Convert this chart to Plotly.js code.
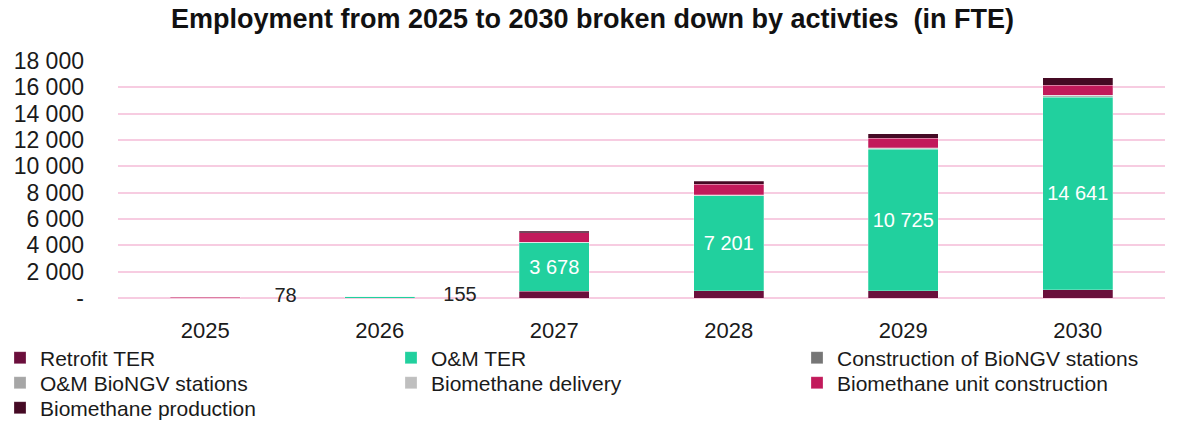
<!DOCTYPE html>
<html>
<head>
<meta charset="utf-8">
<script src="https://cdn.plot.ly/plotly-3.0.1.min.js"></script>
<style>html,body{margin:0;padding:0;background:#fff;}#chart{width:1185px;height:423px;}</style>
</head>
<body>
<div id="chart"></div>
<script>
const years = ['2025', '2026', '2027', '2028', '2029', '2030'];
const retrofitTER = [0, 0, 500, 560, 570, 620];
const omTER = [0, 140, 3678, 7201, 10725, 14641];
const constructionBioNGV = [0, 0, 20, 30, 40, 50];
const omBioNGV = [0, 0, 10, 20, 30, 40];
const biomethaneDelivery = [0, 0, 10, 20, 30, 40];
const biomethaneUnitConstruction = [60, 10, 720, 800, 720, 760];
const biomethaneProduction = [18, 5, 150, 230, 350, 580];
const yTickValues = [0, 2000, 4000, 6000, 8000, 10000, 12000, 14000, 16000, 18000];

const fmt = v => Math.round(v).toString().replace(/\B(?=(\d{3})+(?!\d))/g, ' ');
const xs = years.map((_, i) => i);
const FONT = 'Liberation Sans, Arial, sans-serif';
const W = 1185, H = 423;

// legend cell (column, row) for each series, laid out in 3 columns like the reference
const series = [
  {name: 'Retrofit TER', y: retrofitTER, color: '#6B0F3C', cell: [0, 0]},
  {name: 'O&M TER', y: omTER, color: '#21D09E', cell: [1, 0]},
  {name: 'Construction of BioNGV stations', y: constructionBioNGV, color: '#767676', cell: [2, 0]},
  {name: 'O&M BioNGV stations', y: omBioNGV, color: '#A6A6A6', cell: [0, 1]},
  {name: 'Biomethane delivery', y: biomethaneDelivery, color: '#BFBFBF', cell: [1, 1]},
  {name: 'Biomethane unit construction', y: biomethaneUnitConstruction, color: '#C21A5B', cell: [2, 1]},
  {name: 'Biomethane production', y: biomethaneProduction, color: '#450A24', cell: [0, 2]}
];

const colX = [-13, 391, 797];
const rowY = [358, 383, 408];

const layout = {
  width: W, height: H,
  margin: {l: 118, r: 20, t: 61, b: 125},
  paper_bgcolor: '#ffffff', plot_bgcolor: '#ffffff',
  font: {family: FONT, color: '#1a1a1a', size: 20},
  title: {
    text: '<b>Employment from 2025 to 2030 broken down by activties  (in FTE)</b>',
    font: {size: 27, color: '#111111', family: FONT},
    x: 0.5, xref: 'container', y: 0.957, yref: 'container', yanchor: 'middle'
  },
  barmode: 'stack',
  xaxis: {
    range: [-0.5, 5.5], tickvals: xs, ticktext: years, showgrid: false, zeroline: false,
    showline: false, ticks: '', tickfont: {size: 22, color: '#1a1a1a'}, ticklabelstandoff: 17,
    fixedrange: true
  },
  yaxis: {
    range: [0, 18000], tickvals: yTickValues, ticktext: yTickValues.map(v => v === 0 ? '-' : fmt(v)),
    showgrid: true, gridcolor: '#F7CCE1', gridwidth: 2,
    zeroline: true, zerolinecolor: '#F7CCE1', zerolinewidth: 2,
    showline: false, ticks: '', tickfont: {size: 23, color: '#1a1a1a'}, ticklabelstandoff: 33,
    fixedrange: true
  },
  showlegend: true
};

const traces = series.map((s, k) => {
  const legId = k === 0 ? 'legend' : 'legend' + (k + 1);
  layout[legId] = {
    orientation: 'h', xref: 'container', yref: 'container',
    x: colX[s.cell[0]] / W, y: 1 - rowY[s.cell[1]] / H,
    xanchor: 'left', yanchor: 'middle', itemwidth: 30,
    font: {size: 21, color: '#1a1a1a', family: FONT}, itemclick: false,
    bgcolor: 'rgba(0,0,0,0)'
  };
  const t = {
    type: 'bar', name: s.name, x: xs, y: s.y, width: 0.4, legend: legId,
    marker: {color: s.color, line: {color: 'rgba(255,255,255,0.5)', width: 0.5}},
    hoverinfo: 'name+y'
  };
  if (s.name === 'O&M TER') {
    t.text = s.y.map(v => v >= 1000 ? fmt(v) : '');
    t.textposition = 'inside';
    t.insidetextanchor = 'middle';
    t.textangle = 0;
    t.insidetextfont = {color: '#ffffff', size: 20, family: FONT};
    t.constraintext = 'none';
  }
  return t;
});

const totals = xs.map(i => series.reduce((a, s) => a + s.y[i], 0));
traces.push({
  type: 'scatter', mode: 'text', showlegend: false, hoverinfo: 'skip', cliponaxis: false,
  x: xs.map(i => i + 0.46),
  y: totals,
  text: totals.map((v, i) => omTER[i] >= 1000 ? '' : fmt(v)),
  textposition: 'middle center',
  textfont: {color: '#222222', size: 20, family: FONT}
});

Plotly.newPlot('chart', traces, layout, {displayModeBar: false, staticPlot: true});
</script>
</body>
</html>
